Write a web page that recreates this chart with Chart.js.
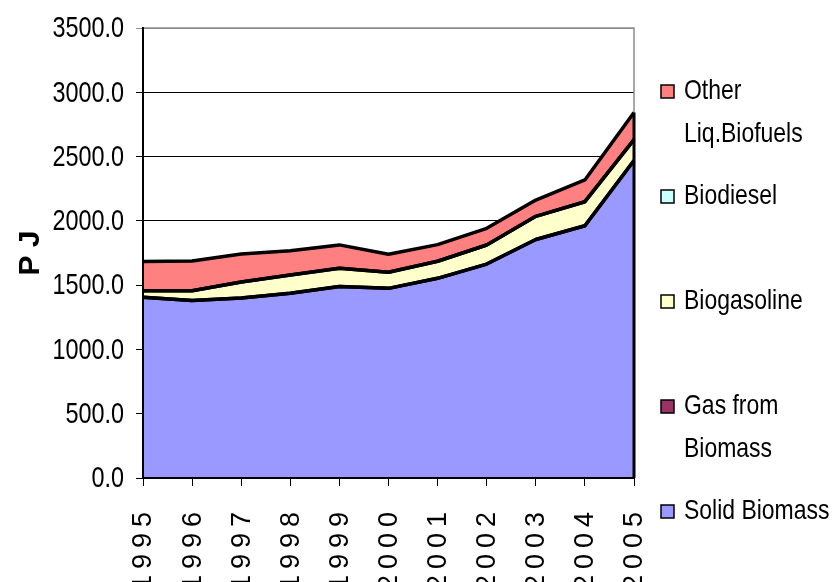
<!DOCTYPE html>
<html>
<head>
<meta charset="utf-8">
<script src="https://cdn.jsdelivr.net/npm/chart.js@4.4.1/dist/chart.umd.min.js"></script>
<style>
  html, body { margin: 0; padding: 0; background: #fff; }
</style>
</head>
<body>
<canvas id="bioChart" width="834" height="582"></canvas>
<script>
// values (PJ)
const years = ['1995', '1996', '1997', '1998', '1999', '2000', '2001', '2002', '2003', '2004', '2005'];
const solidBiomass = [1405, 1380, 1400, 1437, 1490, 1475, 1553, 1664, 1855, 1962, 2470];
const gasFromBiomass = [0, 0, 0, 0, 0, 0, 0, 0, 0, 0, 0];
const biogasoline = [52, 77, 125, 142, 141, 125, 133, 148, 180, 187, 162];
const biodiesel = [0, 0, 0, 0, 0, 0, 0, 0, 0, 0, 0];
const otherLiqBiofuels = [226, 231, 217, 189, 182, 140, 129, 130, 127, 169, 211];
const yTicks = [0, 500, 1000, 1500, 2000, 2500, 3000, 3500];

const REGULAR = '"Liberation Sans", Arial, sans-serif';

function areaSet(label, data, color, fill) {
  return {
    label: label,
    data: data,
    backgroundColor: color,
    borderColor: '#000',
    borderWidth: 3.5,
    borderJoinStyle: 'round',
    pointRadius: 0,
    tension: 0,
    fill: fill
  };
}

// draw text squeezed sideways, the original font is a narrow one
function narrowText(ctx, text, x, y, sx) {
  ctx.save();
  ctx.translate(x, y);
  ctx.scale(sx, 1);
  ctx.fillText(text, 0, 0);
  ctx.restore();
}

// legend is drawn by hand, spread down the right side like the original
const legendPlugin = {
  id: 'sideLegend',
  afterDraw(chart) {
    const ctx = chart.ctx;
    const ds = chart.data.datasets.slice().reverse();
    const wrap = { 'Other Liq.Biofuels': ['Other', 'Liq.Biofuels'], 'Gas from Biomass': ['Gas from', 'Biomass'] };
    const x0 = chart.chartArea.right + 27;
    ctx.save();
    ctx.font = '28px ' + REGULAR;
    ctx.textBaseline = 'middle';
    ctx.textAlign = 'left';
    ds.forEach((d, i) => {
      const y = 91 + i * 105;
      ctx.fillStyle = d.backgroundColor;
      ctx.fillRect(x0, y - 6, 13, 13);
      ctx.lineWidth = 1.5;
      ctx.strokeStyle = '#000';
      ctx.strokeRect(x0, y - 6, 13, 13);
      ctx.fillStyle = '#000';
      const lines = wrap[d.label] || [d.label];
      lines.forEach((t, k) => narrowText(ctx, t, x0 + 23, y + k * 43, 0.82));
    });
    ctx.restore();
  }
};

// tick labels: rotated years under the x scale, narrow numbers beside the y scale
const tickLabelPlugin = {
  id: 'tickLabels',
  afterDraw(chart) {
    const ctx = chart.ctx;
    const xs = chart.scales.x;
    const ys = chart.scales.y;
    ctx.save();
    ctx.font = '27px ' + REGULAR;
    ctx.fillStyle = '#000';
    ctx.textAlign = 'right';
    ctx.textBaseline = 'middle';
    ctx.letterSpacing = '6px';
    years.forEach((y, i) => {
      const px = xs.getPixelForValue(i);
      ctx.save();
      ctx.translate(px, chart.chartArea.bottom + 34);
      ctx.rotate(-Math.PI / 2);
      ctx.fillText(y, 6, 1);
      ctx.restore();
    });
    ctx.letterSpacing = '0px';
    ctx.font = '30px ' + REGULAR;
    yTicks.forEach(v => {
      narrowText(ctx, v.toFixed(1), chart.chartArea.left - 19, ys.getPixelForValue(v) + 1, 0.78);
    });
    ctx.restore();
  }
};

// grey frame on top and right of the plot
const framePlugin = {
  id: 'plotFrame',
  afterDatasetsDraw(chart) {
    const a = chart.chartArea;
    const ctx = chart.ctx;
    ctx.save();
    ctx.strokeStyle = '#8c8c8c';
    ctx.lineWidth = 1.5;
    ctx.beginPath();
    ctx.moveTo(a.left, a.top);
    ctx.lineTo(a.right, a.top);
    ctx.lineTo(a.right, a.bottom);
    ctx.stroke();
    // black edge of the area at the last year
    const ys = chart.scales.y;
    const last = years.length - 1;
    const top = solidBiomass[last] + gasFromBiomass[last] + biogasoline[last] + biodiesel[last] + otherLiqBiofuels[last];
    ctx.strokeStyle = '#000';
    ctx.lineWidth = 3;
    ctx.beginPath();
    ctx.moveTo(a.right, a.bottom);
    ctx.lineTo(a.right, ys.getPixelForValue(top));
    ctx.stroke();
    ctx.restore();
  }
};

const ctx = document.getElementById('bioChart').getContext('2d');
const bioChart = new Chart(ctx, {
  type: 'line',
  data: {
    labels: years,
    datasets: [
      areaSet('Solid Biomass', solidBiomass, '#9999FF', 'origin'),
      areaSet('Gas from Biomass', gasFromBiomass, '#993366', '-1'),
      areaSet('Biogasoline', biogasoline, '#FFFFCC', '-1'),
      areaSet('Biodiesel', biodiesel, '#CCFFFF', '-1'),
      areaSet('Other Liq.Biofuels', otherLiqBiofuels, '#FF8080', '-1')
    ]
  },
  options: {
    responsive: false,
    animation: false,
    layout: { padding: { left: 0, right: 200, top: 28, bottom: 0 } },
    plugins: {
      legend: { display: false },
      tooltip: { enabled: false },
      filler: { drawTime: 'beforeDatasetsDraw' }
    },
    scales: {
      x: {
        type: 'category',
        offset: false,
        grid: { drawOnChartArea: false, drawTicks: true, tickLength: 8, color: '#000', lineWidth: 1 },
        border: { color: '#000', width: 2, z: 1 },
        ticks: { display: false },
        afterFit: (scale) => { scale.height = 104; }
      },
      y: {
        stacked: true,
        min: 0,
        max: 3500,
        afterBuildTicks: (scale) => { scale.ticks = yTicks.map(v => ({ value: v })); },
        ticks: { display: false },
        grid: {
          color: (c) => (c.tick && c.tick.value === 3500 ? '#8c8c8c' : '#000'),
          lineWidth: 1,
          tickLength: 7
        },
        border: { color: '#000', width: 2, z: 1 },
        title: {
          display: true,
          text: 'P J',
          color: '#000',
          font: { family: REGULAR, size: 30, weight: 'bold' },
          padding: { top: 13, bottom: 0 }
        },
        afterFit: (scale) => { scale.width = 143; }
      }
    }
  },
  plugins: [framePlugin, tickLabelPlugin, legendPlugin]
});
</script>
</body>
</html>
